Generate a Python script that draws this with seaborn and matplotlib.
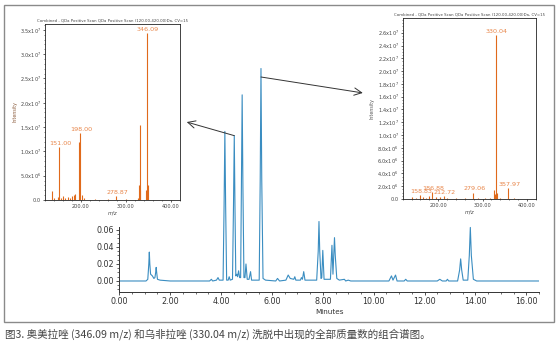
import matplotlib
matplotlib.use("Agg")
import matplotlib.pyplot as plt
import matplotlib.patches as mpatches
from matplotlib.ticker import MultipleLocator, FixedLocator, FuncFormatter
import seaborn as sns
import pandas as pd

# ---------------- data ----------------
# chromatogram trace vertices (minutes, AU)
rt_min = [0.00, 1.05, 1.12, 1.16, 1.18, 1.20, 1.23, 1.30, 1.36, 1.40, 1.43, 1.45, 1.47, 1.50, 1.60, 2.00,
          3.55, 3.62, 3.67, 3.82, 3.88, 3.93, 4.08, 4.12, 4.15, 4.18, 4.22, 4.28, 4.32, 4.36, 4.45, 4.49,
          4.52, 4.55, 4.58, 4.62, 4.65, 4.69, 4.73, 4.77, 4.80, 4.83, 4.86, 4.90, 4.94, 4.98, 5.03, 5.10,
          5.16, 5.20, 5.50, 5.54, 5.57, 5.60, 5.65, 5.75, 6.15, 6.22, 6.30, 6.55, 6.64, 6.72, 6.86, 6.90,
          6.94, 7.12, 7.16, 7.20, 7.25, 7.30, 7.76, 7.82, 7.85, 7.88, 7.93, 7.96, 8.00, 8.05, 8.30, 8.36,
          8.40, 8.43, 8.46, 8.49, 8.55, 8.65, 8.85, 8.90, 9.00, 9.10, 10.60, 10.70, 10.76, 10.86, 10.92,
          11.20, 11.26, 11.32, 12.50, 12.60, 12.70, 12.85, 12.90, 12.95, 13.30, 13.38, 13.42, 13.46,
          13.52, 13.70, 13.76, 13.80, 13.84, 13.92, 14.05, 16.50]
absorbance = [0.000, 0.000, 0.002, 0.020, 0.034, 0.020, 0.008, 0.006, 0.003, 0.004, 0.010, 0.016, 0.010,
              0.002, 0.001, 0.000, 0.000, 0.002, 0.000, 0.001, 0.004, 0.001, 0.001, 0.090, 0.176, 0.090,
              0.001, 0.001, 0.005, 0.001, 0.002, 0.090, 0.171, 0.080, 0.006, 0.008, 0.005, 0.012, 0.004,
              0.004, 0.110, 0.219, 0.110, 0.004, 0.004, 0.020, 0.002, 0.002, 0.011, 0.001, 0.001, 0.120,
              0.250, 0.120, 0.003, 0.001, 0.000, 0.003, 0.000, 0.001, 0.007, 0.003, 0.002, 0.005, 0.001,
              0.001, 0.004, 0.002, 0.011, 0.001, 0.001, 0.035, 0.070, 0.035, 0.003, 0.004, 0.036, 0.002,
              0.002, 0.042, 0.008, 0.030, 0.051, 0.030, 0.003, 0.001, 0.002, 0.000, 0.001, 0.000, 0.000,
              0.006, 0.001, 0.007, 0.000, 0.000, 0.002, 0.000, 0.000, 0.002, 0.000, 0.000, 0.002, 0.000,
              0.000, 0.013, 0.026, 0.013, 0.001, 0.001, 0.030, 0.063, 0.030, 0.002, 0.000, 0.000]

# mass spectrum, omeprazole elution (m/z, intensity)
mz_left = [135, 140, 148, 151.00, 156, 160, 165, 170, 176, 180, 184, 187, 196, 198.00, 202, 206,
           230, 260, 278.87, 300, 326, 328, 330, 332, 344, 346.09, 348]
int_left = [0.19e7, 0.04e7, 0.07e7, 1.08e7, 0.05e7, 0.08e7, 0.05e7, 0.06e7, 0.04e7, 0.09e7, 0.10e7,
            0.12e7, 1.20e7, 1.38e7, 0.10e7, 0.04e7, 0.02e7, 0.02e7, 0.08e7, 0.02e7, 0.05e7, 0.30e7,
            1.55e7, 0.20e7, 0.20e7, 3.43e7, 0.30e7]
labels_left = ["151.00", "198.00", "278.87", "346.09"]

# mass spectrum, ufiprazole elution
mz_right = [141, 150, 158.83, 165, 172, 180, 186.88, 195, 205, 212.72, 220, 240, 260, 279.06, 290,
            305, 318, 325, 328, 330.04, 332, 340, 357.97, 370, 390]
int_right = [0.3e6, 0.2e6, 0.6e6, 0.3e6, 0.2e6, 0.5e6, 1.15e6, 0.3e6, 0.3e6, 0.45e6, 0.1e6, 0.1e6,
             0.1e6, 1.0e6, 0.1e6, 0.1e6, 0.2e6, 1.4e6, 0.8e6, 25.6e6, 1.0e6, 0.2e6, 1.7e6, 0.1e6, 0.05e6]
labels_right = ["158.83", "186.88", "212.72", "279.06", "330.04", "357.97"]

rt_ticks = [0, 2, 4, 6, 8, 10, 12, 14, 16]
au_ticks = [0.00, 0.02, 0.04, 0.06]
mz_ticks = [200, 300, 400]
yt_left = [0, 5e6, 1e7, 1.5e7, 2e7, 2.5e7, 3e7, 3.5e7]
yt_right = [0, 2e6, 4e6, 6e6, 8e6, 1e7, 1.2e7, 1.4e7, 1.6e7, 1.8e7, 2e7, 2.2e7, 2.4e7, 2.6e7]

inset_title = "Combined - QDa Positive Scan QDa Positive Scan (120.00-420.00)Da, CV=15"
caption = "图3. 奥美拉唑 (346.09 m/z) 和乌非拉唑 (330.04 m/z) 洗脱中出现的全部质量数的组合谱图。"

# ---------------- style ----------------
sns.set_theme(style="white")
plt.rcParams["font.family"] = ["DejaVu Sans", "Noto Sans CJK SC"]
plt.rcParams["mathtext.fontset"] = "dejavusans"

BLUE = "#3a8dc1"
ORANGE = "#e06a1b"
LABEL_OR = "#e8864a"
DARK = "#333333"

W, H = 560, 351
fig = plt.figure(figsize=(W / 100, H / 100), dpi=100)

def frac(x0, y0, x1, y1):
    return [x0 / W, 1 - y1 / H, (x1 - x0) / W, (y1 - y0) / H]

# outer frame
fig.patches.append(mpatches.Rectangle((4 / W, 1 - 322 / H), 550 / W, 317 / H, transform=fig.transFigure,
                                      fill=False, edgecolor="#8a8a8a", linewidth=1.0))

# ---------------- main chromatogram ----------------
ax = fig.add_axes(frac(119.3, 60, 539, 291.7))
ax.patch.set_visible(False)
df = pd.DataFrame({"rt": rt_min, "au": absorbance})
sns.lineplot(data=df, x="rt", y="au", ax=ax, sort=False, estimator=None, color=BLUE, linewidth=0.8)
ax.set_xlim(0, 16.5)
ax.set_ylim(-0.0126, 0.26)
for s in ["top", "right"]:
    ax.spines[s].set_visible(False)
for s in ["left", "bottom"]:
    ax.spines[s].set_color(DARK)
    ax.spines[s].set_linewidth(0.7)
ax.spines["left"].set_bounds(-0.0126, 0.0635)
ax.xaxis.set_major_locator(FixedLocator(rt_ticks))
ax.xaxis.set_minor_locator(MultipleLocator(0.5))
ax.yaxis.set_major_locator(FixedLocator(au_ticks))
ax.yaxis.set_minor_locator(FixedLocator([i * 0.005 for i in range(-2, 13)]))
ax.xaxis.set_major_formatter(FuncFormatter(lambda v, p: f"{v:.2f}"))
ax.yaxis.set_major_formatter(FuncFormatter(lambda v, p: f"{v:.2f}"))
ax.tick_params(axis="both", which="major", direction="out", length=2.5, width=0.6, color=DARK,
               labelsize=5.8, labelcolor=DARK, pad=1.5, bottom=True, left=True)
ax.tick_params(axis="both", which="minor", direction="out", length=1.5, width=0.5, color=DARK,
               bottom=True, left=True)
ax.set_xlabel("Minutes", fontsize=5.2, color=DARK, labelpad=2)
ax.set_ylabel("")

# ---------------- insets ----------------
def sci_fmt(v, p):
    if v == 0:
        return "0.0"
    e = 0
    m = v
    while abs(m) >= 10:
        m /= 10
        e += 1
    return f"{m:.1f}x10$^{{{e}}}$"

def style_inset(a, yticks, ymax, yminor, ylab_color):
    a.set_facecolor("white")
    a.set_xlim(120, 420)
    a.set_ylim(0, ymax)
    for s in a.spines.values():
        s.set_visible(True)
        s.set_color("#222222")
        s.set_linewidth(0.6)
    a.xaxis.set_major_locator(FixedLocator(mz_ticks))
    a.xaxis.set_minor_locator(MultipleLocator(20))
    a.yaxis.set_major_locator(FixedLocator(yticks))
    a.yaxis.set_minor_locator(MultipleLocator(yminor))
    a.xaxis.set_major_formatter(FuncFormatter(lambda v, p: f"{v:.2f}"))
    a.yaxis.set_major_formatter(FuncFormatter(sci_fmt))
    a.tick_params(axis="both", which="major", direction="out", length=1.6, width=0.5, color="#222222",
                  labelsize=3.6, labelcolor="#444444", pad=1.2, bottom=True, left=True)
    a.tick_params(axis="both", which="minor", direction="out", length=1.0, width=0.4, color="#222222",
                  bottom=True, left=True)
    a.set_xlabel("m/z", fontsize=3.8, style="italic", color="#444444", labelpad=1.5)
    a.set_ylabel("Intensity", fontsize=3.4, color=ylab_color, labelpad=2)
    a.set_title(inset_title, fontsize=2.8, color="#444444", pad=2)

axL = fig.add_axes(frac(45, 24, 180, 200))
axL.set_zorder(3)
axL.vlines(mz_left, 0, int_left, color=ORANGE, linewidth=0.8)
style_inset(axL, yt_left, 3.62e7, 1e6, "#8a5a3a")
for mz, inten in zip(mz_left, int_left):
    if f"{mz:.2f}" in labels_left:
        axL.annotate(f"{mz:.2f}", (mz, inten), xytext=(0.8, 0.8), textcoords="offset points",
                     ha="center", va="bottom", fontsize=4.6, color=LABEL_OR)

axR = fig.add_axes(frac(402.7, 18, 535.7, 199))
axR.set_zorder(3)
axR.vlines(mz_right, 0, int_right, color=ORANGE, linewidth=0.8)
style_inset(axR, yt_right, 2.83e7, 5e5, "#555555")
for mz, inten in zip(mz_right, int_right):
    if f"{mz:.2f}" in labels_right:
        axR.annotate(f"{mz:.2f}", (mz, inten), xytext=(0.8, 0.8), textcoords="offset points",
                     ha="center", va="bottom", fontsize=4.6, color=LABEL_OR)

# ---------------- arrows from peaks to spectra ----------------
arrow_kw = dict(arrowstyle="->,head_length=0.45,head_width=0.22", color="#333333", lw=0.7,
                shrinkA=0, shrinkB=0)
ax.annotate("", xy=(1.05, 0.443), xycoords=axL.transAxes, xytext=(rt_min[32], absorbance[32]),
            textcoords="data", arrowprops=arrow_kw, annotation_clip=False)
ax.annotate("", xy=(-0.30, 0.586), xycoords=axR.transAxes, xytext=(rt_min[52], absorbance[52] - 0.01),
            textcoords="data", arrowprops=arrow_kw, annotation_clip=False)

# ---------------- caption ----------------
fig.text(5 / W, 1 - 334 / H, caption, fontsize=7.6, color="#444444", ha="left", va="center",
         family=["Noto Sans CJK SC", "DejaVu Sans"])

fig.savefig("out.png", dpi=100)
